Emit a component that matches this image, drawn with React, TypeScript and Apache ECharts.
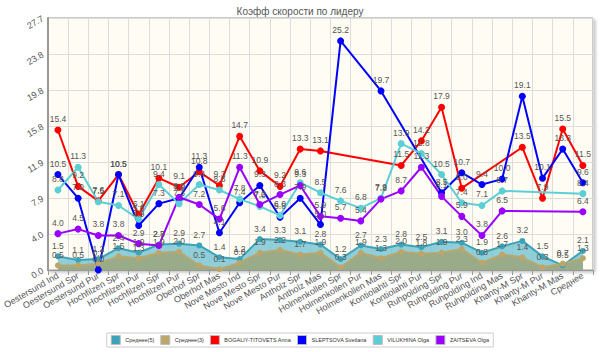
import React, { useEffect, useRef } from "react";
import * as echarts from "echarts";

const categories = [
  "Oestersund Ind", "Oestersund Spr", "Oestersund Pur", "Hochfilzen Spr", "Hochfilzen Pur",
  "Hochfilzen Spr", "Hochfilzen Pur", "Oberhof Spr", "Oberhof Mas", "Nove Mesto Ind",
  "Nove Mesto Spr", "Nove Mesto Pur", "Antholz Spr", "Antholz Mas", "Holmenkollen Spr",
  "Holmenkollen Pur", "Holmenkollen Mas", "Kontiolahti Spr", "Kontiolahti Pur", "Ruhpolding Spr",
  "Ruhpolding Pur", "Ruhpolding Ind", "Ruhpolding Mas", "Khanty-M Spr", "Khanty-M Pur",
  "Khanty-M Mas", "Среднее",
];

const avg5 = [1.5, 1.1, 1.2, 2.4, 1.9, 2.8, 2.9, 2.7, 1.4, 1.2, 3.4, 3.3, 3.1, 2.8, 1.2, 2.7, 2.3, 2.8, 2.5, 3.1, 3.0, 1.9, 2.6, 3.2, 1.5, 0.5, 2.1];
const avg3 = [0.5, 0.5, 0.7, 1.5, 1.3, 1.9, 2.0, 0.5, 0.1, 0.8, 1.9, 2.2, 1.7, 1.9, 0.3, 1.9, 1.3, 2.0, 1.8, 1.9, 2.3, 0.8, 1.7, 1.4, 0.3, 0.7, 1.3];
const bogaliy = [15.4, 9.2, 7.6, 10.5, 6.1, 10.1, 9.1, 10.8, 9.3, 14.7, 10.9, 9.2, 13.3, 13.1, null, null, null, 11.5, 14.2, 17.9, 9.0, null, null, 13.5, 7.9, 15.5, 11.5];
const sleptsova = [10.5, 7.9, 0.0, 10.5, 4.9, 7.3, 7.9, 11.3, 4.1, 7.4, 9.3, 5.8, 7.9, 5.0, 25.2, null, 19.7, null, null, 8.5, 10.7, 9.4, 10.0, 19.1, 10.1, 13.3, 9.6];
const vilukhina = [8.8, 11.3, 7.5, 7.1, 5.6, 9.4, 7.3, 9.4, 8.8, 7.8, 7.0, 6.0, 9.6, 8.5, 7.6, 6.8, 7.9, 13.9, 12.8, 10.5, 7.4, 7.1, 8.7, null, null, null, 8.4];
const zaitseva = [4.0, 4.5, 3.8, 3.8, 2.9, 2.7, 8.0, 7.2, 5.6, 11.3, 7.2, 8.3, 9.3, 5.9, 5.7, 5.4, 7.8, 8.7, 11.3, 8.1, 5.9, 3.8, 6.5, null, null, null, 6.4];

const seriesNames = ["Среднее(5)", "Среднее(3)", "BOGALIY-TITOVETS Anna", "SLEPTSOVA Svetlana", "VILUKHINA Olga", "ZAITSEVA Olga"];
const titleText = "Коэфф скорости по лидеру";
const yMax = 27.72;
const yInterval = 3.96;

const FONT = "Liberation Sans";

export default function App() {
  const ref = useRef<HTMLDivElement>(null);
  useEffect(() => {
    if (!ref.current) return;
    const chart = echarts.init(ref.current, null, { renderer: "svg" });
    const label = {
      show: true,
      position: "top",
      distance: 3,
      fontSize: 8.5,
      fontFamily: FONT,
      color: "#555",
      formatter: (p: any) => (p.value == null ? "" : Number(p.value).toFixed(1)),
    };
    const lineSeries = (name: string, data: any[], color: string) => ({
      name,
      type: "line",
      data,
      connectNulls: true,
      symbol: "circle",
      symbolSize: 7,
      lineStyle: { color, width: 2 },
      itemStyle: { color },
      label,
    });
    chart.setOption({
      animation: false,
      textStyle: { fontFamily: FONT },
      title: {
        text: titleText,
        left: "center",
        top: 1,
        textStyle: { fontSize: 10, fontWeight: "normal", color: "#555", fontFamily: FONT },
      },
      legend: {
        bottom: 5,
        left: "center",
        itemWidth: 9,
        itemHeight: 9,
        itemGap: 6,
        padding: [2, 4],
        borderColor: "#ccc",
        borderWidth: 1,
        icon: "rect",
        textStyle: { fontSize: 5.5, color: "#333", fontFamily: FONT },
        data: seriesNames.map((n) => ({ name: n, itemStyle: { borderColor: "#bbb", borderWidth: 1 } })),
      },
      grid: {
        left: 36,
        right: 7,
        top: 18,
        bottom: 82,
        show: true,
        backgroundColor: "#fffdf3",
        borderColor: "#999",
        borderWidth: 1,
        shadowColor: "rgba(0,0,0,0.25)",
        shadowBlur: 3,
        shadowOffsetX: 2,
        shadowOffsetY: 2,
      },
      xAxis: {
        type: "category",
        data: categories,
        boundaryGap: true,
        axisLine: { lineStyle: { color: "#999" } },
        axisTick: { show: true, lineStyle: { color: "#999" } },
        splitLine: { show: true, lineStyle: { color: "#ddd" } },
        axisLabel: { interval: 0, rotate: 30, fontSize: 9, color: "#555", margin: 5, fontFamily: FONT },
      },
      yAxis: {
        type: "value",
        min: 0,
        max: yMax,
        interval: yInterval,
        axisLine: { show: true, lineStyle: { color: "#999", width: 2 } },
        axisTick: { show: false },
        splitLine: { show: true, lineStyle: { color: "#ddd" } },
        axisLabel: {
          rotate: 30,
          fontSize: 9,
          color: "#555",
          margin: 5,
          fontFamily: FONT,
          formatter: (v: number) => v.toFixed(1),
        },
      },
      series: [
        {
          name: seriesNames[0],
          type: "line",
          data: avg5,
          symbol: "circle",
          symbolSize: 6,
          lineStyle: { color: "#3ba3b8", width: 2 },
          itemStyle: { color: "#3ba3b8" },
          areaStyle: { color: "#7cc6d4", opacity: 0.85 },
          label,
        },
        {
          name: seriesNames[1],
          type: "line",
          data: avg3,
          symbol: "circle",
          symbolSize: 6,
          lineStyle: { color: "#bba66b", width: 2 },
          itemStyle: { color: "#bba66b" },
          areaStyle: { color: "#9aa77f", opacity: 0.9 },
          label,
        },
        lineSeries(seriesNames[2], bogaliy, "#ff0000"),
        lineSeries(seriesNames[3], sleptsova, "#0000ff"),
        lineSeries(seriesNames[4], vilukhina, "#5ccfd6"),
        lineSeries(seriesNames[5], zaitseva, "#9900ff"),
      ],
    });
    return () => chart.dispose();
  }, []);
  return <div ref={ref} style={{ position: "absolute", left: 0, top: 0, width: 600, height: 352 }} />;
}
